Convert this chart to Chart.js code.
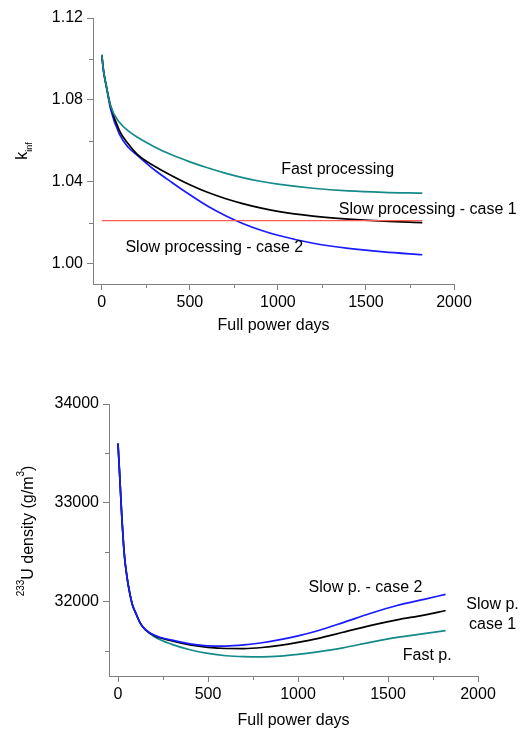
<!DOCTYPE html>
<html>
<head>
<meta charset="utf-8">
<script src="https://cdn.jsdelivr.net/npm/chart.js@4.4.1/dist/chart.umd.min.js"></script>
<style>
  body { margin: 0; background: #fff; }
  #wrap { position: relative; width: 523px; height: 731px; }
  #wrap canvas { position: absolute; left: 0; }
</style>
</head>
<body>
<div id="wrap">
  <canvas id="kChart" width="523" height="345" style="top:0;width:523px;height:345px"></canvas>
  <canvas id="uChart" width="523" height="386" style="top:345px;width:523px;height:386px"></canvas>
</div>
<script>
// k_inf vs full power days
var kDays  = [0, 10, 25, 50, 100, 150, 200, 300, 400, 500, 600, 700, 800, 900, 1000, 1200, 1400, 1600, 1820];
var kFast  = [1.102, 1.094, 1.087, 1.077, 1.069, 1.0648, 1.0618, 1.057, 1.053, 1.0497, 1.0468, 1.0442, 1.042, 1.0402, 1.0388, 1.0368, 1.0355, 1.0348, 1.0344];
var kSlow1 = [1.102, 1.094, 1.087, 1.077, 1.065, 1.0585, 1.0535, 1.0475, 1.0428, 1.0385, 1.0348, 1.0318, 1.0293, 1.0272, 1.0255, 1.0232, 1.0217, 1.0207, 1.0200];
var kSlow2 = [1.102, 1.094, 1.087, 1.0755, 1.0632, 1.0568, 1.053, 1.0457, 1.0395, 1.0336, 1.0281, 1.0235, 1.0196, 1.0164, 1.0138, 1.0099, 1.0074, 1.0057, 1.0043];
var kLimitDays = [0, 1820];
var kLimit = [1.021, 1.021];

// 233U density vs full power days
var uDays  = [0, 10, 20, 35, 50, 65, 80, 100, 125, 150, 200, 300, 400, 500, 600, 700, 800, 900, 1000, 1100, 1250, 1400, 1550, 1700, 1820];
var uFast  = [33600, 33260, 32900, 32480, 32250, 32090, 31970, 31880, 31780, 31720, 31650, 31570, 31515, 31478, 31455, 31445, 31443, 31450, 31468, 31492, 31535, 31590, 31640, 31678, 31708];
var uSlow1 = [33600, 33260, 32900, 32480, 32250, 32090, 31970, 31880, 31780, 31722, 31660, 31605, 31565, 31540, 31528, 31527, 31538, 31560, 31590, 31626, 31692, 31760, 31818, 31866, 31912];
var uSlow2 = [33600, 33260, 32900, 32480, 32250, 32090, 31970, 31880, 31782, 31725, 31665, 31612, 31575, 31555, 31553, 31564, 31586, 31617, 31656, 31703, 31790, 31882, 31963, 32025, 32075];

// ticks
var dayTicks = [0, 500, 1000, 1500, 2000];
var dayMinorTicks = [250, 750, 1250, 1750];
var kTicks = [1.00, 1.04, 1.08, 1.12];
var kMinorTicks = [1.02, 1.06, 1.10];
var uTicks = [32000, 33000, 34000];
var uMinorTicks = [31500, 32500, 33500];

// curve labels (anchored in data units, text centred, alphabetic baseline)
var kLabels = [
  { text: 'Fast processing', x: 1339, y: 1.044 },
  { text: 'Slow processing - case 1', x: 1851, y: 1.024 },
  { text: 'Slow processing - case 2', x: 639, y: 1.0057 }
];
var uLabels = [
  { text: 'Slow p. - case 2', x: 1375, y: 32096 },
  { text: 'Slow p.', x: 2081, y: 31929 },
  { text: 'case 1', x: 2081, y: 31728 },
  { text: 'Fast p.', x: 1718, y: 31408 }
];

var FONT = "'Liberation Sans', Arial, sans-serif";
var AXIS_GREY = '#808080';

function pairs(xs, ys) {
  return xs.map(function (x, i) { return { x: x, y: ys[i] }; });
}

function line(data, color, width) {
  return {
    data: data,
    borderColor: color,
    borderWidth: width,
    pointRadius: 0,
    fill: false,
    cubicInterpolationMode: 'monotone'
  };
}

// short ticks between the labelled ones
var minorTicksPlugin = {
  id: 'minorTicks',
  afterDraw: function (chart, args, opts) {
    var ctx = chart.ctx, xs = chart.scales.x, ys = chart.scales.y;
    ctx.save();
    ctx.strokeStyle = AXIS_GREY;
    ctx.lineWidth = 1;
    ctx.beginPath();
    opts.x.forEach(function (v) {
      var px = Math.round(xs.getPixelForValue(v)) + 0.5;
      ctx.moveTo(px, xs.top);
      ctx.lineTo(px, xs.top + opts.length);
    });
    opts.y.forEach(function (v) {
      var py = Math.round(ys.getPixelForValue(v)) + 0.5;
      ctx.moveTo(ys.right - opts.length, py);
      ctx.lineTo(ys.right, py);
    });
    ctx.stroke();
    ctx.restore();
  }
};

// text next to the curves
var curveLabelsPlugin = {
  id: 'curveLabels',
  afterDraw: function (chart, args, opts) {
    var ctx = chart.ctx;
    ctx.save();
    ctx.font = '16px ' + FONT;
    ctx.fillStyle = '#000';
    ctx.textAlign = 'center';
    ctx.textBaseline = 'alphabetic';
    opts.items.forEach(function (l) {
      ctx.fillText(l.text, chart.scales.x.getPixelForValue(l.x), chart.scales.y.getPixelForValue(l.y));
    });
    ctx.restore();
  }
};

// rotated y title with sub/superscripts; parts: {text, size, shift}
var yTitlePlugin = {
  id: 'yTitle',
  afterDraw: function (chart, args, opts) {
    var ctx = chart.ctx, area = chart.chartArea;
    ctx.save();
    ctx.fillStyle = '#000';
    ctx.textBaseline = 'alphabetic';
    ctx.textAlign = 'left';
    var total = 0;
    opts.parts.forEach(function (p) {
      ctx.font = p.size + 'px ' + FONT;
      p.w = ctx.measureText(p.text).width;
      total += p.w;
    });
    ctx.translate(opts.baseline, (area.top + area.bottom) / 2 + (opts.centerShift || 0));
    ctx.rotate(-Math.PI / 2);
    var cx = -total / 2;
    opts.parts.forEach(function (p) {
      ctx.font = p.size + 'px ' + FONT;
      ctx.fillText(p.text, cx, p.shift);
      cx += p.w;
    });
    ctx.restore();
  }
};

function makeChart(id, cfg) {
  return new Chart(document.getElementById(id), {
    type: 'line',
    data: { datasets: cfg.datasets },
    plugins: [minorTicksPlugin, curveLabelsPlugin, yTitlePlugin],
    options: {
      responsive: false,
      animation: false,
      devicePixelRatio: 1,
      layout: { padding: cfg.padding },
      plugins: {
        legend: { display: false },
        tooltip: { enabled: false },
        minorTicks: { x: dayMinorTicks, y: cfg.yMinor, length: 4 },
        curveLabels: { items: cfg.labels },
        yTitle: cfg.yTitle
      },
      scales: {
        x: {
          type: 'linear',
          min: -50,
          max: 2000,
          afterBuildTicks: function (s) { s.ticks = dayTicks.map(function (v) { return { value: v }; }); },
          afterFit: function (s) { s.height = cfg.xHeight; },
          ticks: {
            autoSkip: false, maxRotation: 0, padding: 3, color: '#000',
            font: { family: FONT, size: 16 },
            callback: function (v) { return String(v); }
          },
          grid: { drawOnChartArea: false, drawTicks: true, tickLength: 6, color: AXIS_GREY },
          border: { display: true, color: AXIS_GREY, width: 1 },
          title: {
            display: true, text: 'Full power days', color: '#000',
            font: { family: FONT, size: 16 },
            padding: { top: 0, bottom: cfg.xTitlePad }
          }
        },
        y: {
          type: 'linear',
          min: cfg.yMin,
          max: cfg.yMax,
          afterBuildTicks: function (s) { s.ticks = cfg.yTicks.map(function (v) { return { value: v }; }); },
          afterFit: function (s) { s.width = cfg.yWidth; },
          ticks: {
            autoSkip: false, padding: 4, color: '#000',
            font: { family: FONT, size: 16 },
            callback: cfg.yFormat
          },
          grid: { drawOnChartArea: false, drawTicks: true, tickLength: 6, color: AXIS_GREY },
          border: { display: true, color: AXIS_GREY, width: 1 }
        }
      }
    }
  });
}

makeChart('kChart', {
  datasets: [
    line(pairs(kLimitDays, kLimit), '#ff5a5a', 1.2),
    line(pairs(kDays, kFast), '#148a8a', 1.7),
    line(pairs(kDays, kSlow1), '#000000', 1.7),
    line(pairs(kDays, kSlow2), '#1a1aff', 1.7)
  ],
  padding: { left: 0, top: 18, right: 69, bottom: 0 },
  yWidth: 93,
  xHeight: 61,
  xTitlePad: 10,
  yMin: 0.99,
  yMax: 1.12,
  yTicks: kTicks,
  yMinor: kMinorTicks,
  yFormat: function (v) { return v.toFixed(2); },
  labels: kLabels,
  yTitle: {
    baseline: 27,
    parts: [
      { text: 'k', size: 16, shift: 0 },
      { text: 'inf', size: 9, shift: 5 }
    ]
  }
});

makeChart('uChart', {
  datasets: [
    line(pairs(uDays, uSlow2), '#1a1aff', 1.7),
    line(pairs(uDays, uSlow1), '#000000', 1.7),
    line(pairs(uDays, uFast), '#148a8a', 1.7)
  ],
  padding: { left: 0, top: 59, right: 45, bottom: 0 },
  yWidth: 109,
  xHeight: 55,
  xTitlePad: 1,
  yMin: 31250,
  yMax: 34000,
  yTicks: uTicks,
  yMinor: uMinorTicks,
  yFormat: function (v) { return String(v); },
  labels: uLabels,
  yTitle: {
    baseline: 33,
    centerShift: -9,
    parts: [
      { text: '233', size: 10, shift: -9 },
      { text: 'U density (g/m', size: 16, shift: 0 },
      { text: '3', size: 10, shift: -9 },
      { text: ')', size: 16, shift: 0 }
    ]
  }
});
</script>
</body>
</html>
